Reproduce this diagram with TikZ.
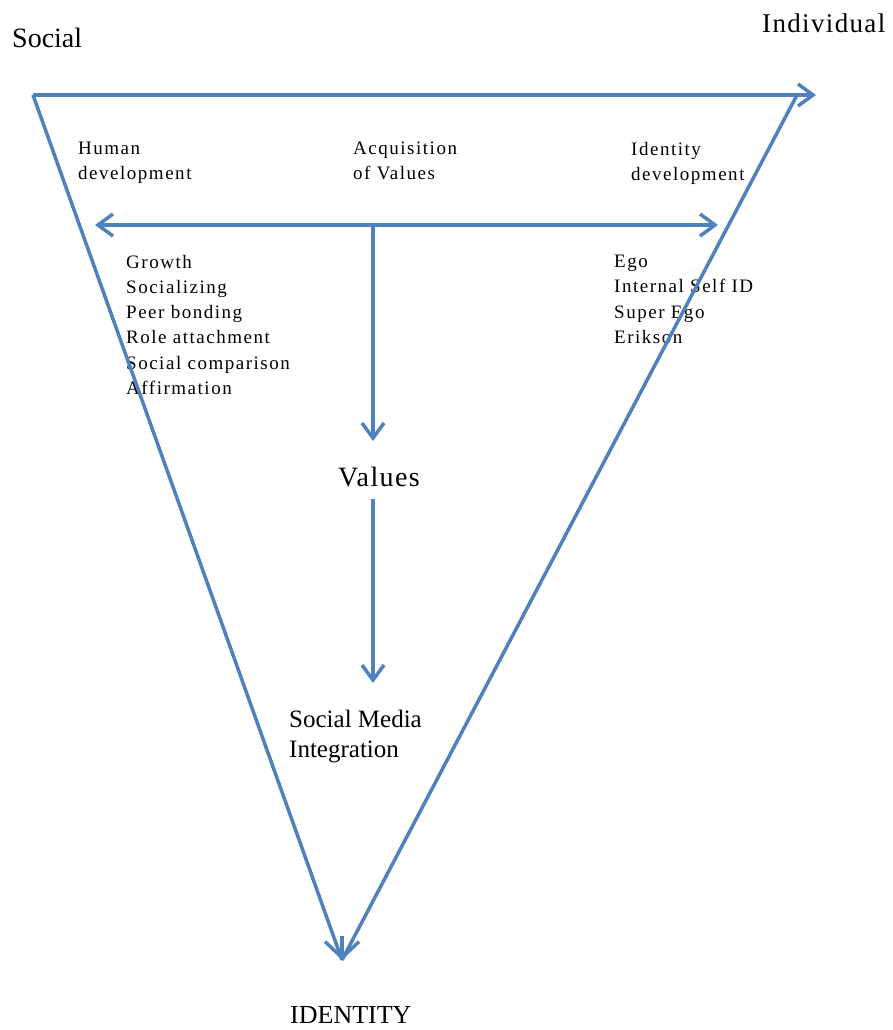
\documentclass[tikz,border=0pt]{standalone}
\usepackage{fontspec}
\setmainfont{Liberation Serif}
\newfontfamily\smallfont[LetterSpace=8]{Liberation Serif}
\newfontfamily\widefont[LetterSpace=5]{Liberation Serif}
\usetikzlibrary{arrows.meta,positioning}
\definecolor{axisblue}{HTML}{4F81BD}

\begin{document}
\begin{tikzpicture}[x=1pt,y=-1pt]
    \tikzstyle{line}=[draw=axisblue, line width=3.5pt]
    \tikzstyle{connect}=[line, -{Straight Barb[length=15pt,width=22pt]}]
    \tikzstyle{dconnect}=[line, {Straight Barb[length=15pt,width=22pt]}-{Straight Barb[length=15pt,width=22pt]}]
    \tikzstyle{small}=[inner sep=0pt, anchor=north west, align=left, font=\smallfont\fontsize{19}{25.2}\selectfont]
    \tikzstyle{big}=[inner sep=0pt, anchor=north west, font=\fontsize{28}{30}\selectfont]
    \tikzstyle{mid}=[inner sep=0pt, anchor=north west, align=left, font=\fontsize{25}{30}\selectfont]

      \useasboundingbox (0,0) rectangle (893,1030);

      \node[big] (social) at (12,28) {Social};
      \node[big, font=\widefont\fontsize{27}{30}\selectfont] (indiv) at (762,14) {Individual};
      \node[small] (hdev) at (78,142) {Human\\development};
      \node[small] (acq) at (353,142) {Acquisition\\of Values};
      \node[small] (iddev) at (631,142) {Identity\\development};
      \node[small] (growth) at (126,255) {Growth\\Socializing\\Peer bonding\\Role attachment\\Social comparison\\Affirmation};
      \node[small] (ego) at (614,255) {Ego\\Internal Self ID\\Super Ego\\Erikson};
      \node[big, font=\widefont\fontsize{28}{30}\selectfont] (values) at (338,467) {Values};
      \node[mid] (smi) at (289,710) {Social Media\\Integration};
      \node[big, font=\fontsize{26}{30}\selectfont] (identity) at (290,1006) {IDENTITY};

      \coordinate (sc) at (33,95);
      \coordinate (ic) at (816,95);
      \coordinate (rt) at (797,95);
      \coordinate (bot) at (342,960);
      \coordinate[above=24pt of bot] (stub);
      \coordinate (hl) at (95,225);
      \coordinate (hr) at (718,225);
      \coordinate (hm) at (373,225);

      \draw[connect] (sc) -- (ic);
      \draw[line] (sc) -- (bot);
      \draw[line] (rt) -- (bot);
      \draw[line, -{Straight Barb[length=16pt,width=34pt]}] (stub) -- (bot);
      \draw[dconnect] (hl) -- (hr);
      \draw[connect, shorten >=26pt] (hm) -- (values.north -| hm);
      \draw[connect, shorten <=12pt, shorten >=27pt] (values.south -| hm) -- (smi.north -| hm);
    \end{tikzpicture}
\end{document}
